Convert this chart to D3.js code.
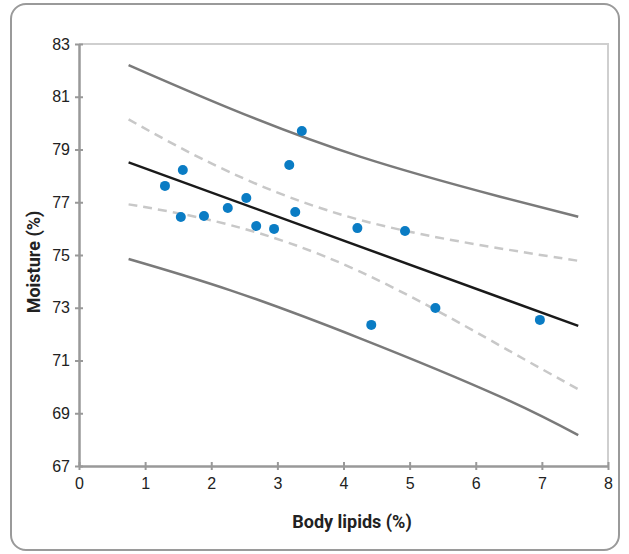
<!DOCTYPE html>
<html>
<head>
<meta charset="utf-8">
<script src="https://cdn.jsdelivr.net/npm/d3@7"></script>
<style>
  body { margin: 0; background: #fff; }
  svg { display: block; font-family: Roboto, "DejaVu Sans", sans-serif; }
</style>
</head>
<body>
<svg width="629" height="554"></svg>
<script>
// observed points: body lipids (%) vs moisture (%)
const lipids   = [1.30, 1.57, 1.54, 1.89, 2.25, 2.53, 2.68, 2.95, 3.27, 3.18, 3.37, 4.21, 4.93, 4.42, 5.39, 6.97];
const moisture = [77.62, 78.22, 76.44, 76.48, 76.78, 77.16, 76.10, 75.99, 76.63, 78.41, 79.70, 76.02, 75.91, 72.35, 72.99, 72.54];

// fitted line and bands
const lineX     = [0.75, 7.55];
const fitY      = [78.51, 72.31];
const bandX     = [0.75, 2.28, 4.25, 6.37, 7.55];
const confUpper = [80.14, 78.14, 76.33, 75.25, 74.78];
const confLower = [76.92, 76.14, 74.37, 71.56, 69.91];
const predUpper = [82.20, 80.56, 78.73, 77.21, 76.45];
const predLower = [74.85, 73.67, 71.84, 69.63, 68.17];

const xTicks = [0, 1, 2, 3, 4, 5, 6, 7, 8];
const yTicks = [67, 69, 71, 73, 75, 77, 79, 81, 83];

const svg = d3.select("svg");
const plotL = 79, plotR = 608, plotT = 44, plotB = 466;

const x = d3.scaleLinear().domain([0, 8]).range([plotL, plotR]);
const y = d3.scaleLinear().domain([67, 83]).range([plotB, plotT]);

// rounded frame
svg.append("rect")
  .attr("x", 11).attr("y", 4)
  .attr("width", 608).attr("height", 546)
  .attr("rx", 15)
  .attr("fill", "none")
  .attr("stroke", "#9a9a9a")
  .attr("stroke-width", 2);

// light top/right border of plot
svg.append("path")
  .attr("d", `M${plotL},${plotT}H${plotR}V${plotB}`)
  .attr("fill", "none")
  .attr("stroke", "#cfcfcf")
  .attr("stroke-width", 2);

const xAxis = svg.append("g")
  .attr("transform", `translate(0,${plotB})`)
  .call(d3.axisBottom(x).tickValues(xTicks).tickSize(0).tickPadding(12).tickFormat(d3.format("d")));
const yAxis = svg.append("g")
  .attr("transform", `translate(${plotL},0)`)
  .call(d3.axisLeft(y).tickValues(yTicks).tickSize(0).tickPadding(9).tickFormat(d3.format("d")));

[xAxis, yAxis].forEach(g => {
  g.select(".domain").attr("stroke", "#999").attr("stroke-width", 2.5);
  g.selectAll("text").attr("fill", "#222").style("font-size", "16px");
});

// ticks crossing the axis
xAxis.selectAll(".tick line").attr("y1", -4).attr("y2", 4).attr("stroke", "#999").attr("stroke-width", 2);
yAxis.selectAll(".tick line").attr("x1", -4).attr("x2", 4).attr("stroke", "#999").attr("stroke-width", 2);

const curve = d3.line()
  .x(d => x(d[0]))
  .y(d => y(d[1]))
  .curve(d3.curveNatural);

const series = [
  { ys: predUpper, color: "#7a7a7a", dash: null },
  { ys: predLower, color: "#7a7a7a", dash: null },
  { ys: confUpper, color: "#c8c8c8", dash: "9,6" },
  { ys: confLower, color: "#c8c8c8", dash: "9,6" }
];

svg.selectAll("path.band")
  .data(series)
  .join("path")
  .attr("class", "band")
  .attr("d", s => curve(d3.zip(bandX, s.ys)))
  .attr("fill", "none")
  .attr("stroke", s => s.color)
  .attr("stroke-width", 2.5)
  .attr("stroke-dasharray", s => s.dash);

svg.append("path")
  .attr("d", curve(d3.zip(lineX, fitY)))
  .attr("fill", "none")
  .attr("stroke", "#1a1a1a")
  .attr("stroke-width", 2.5);

svg.selectAll("circle")
  .data(d3.zip(lipids, moisture))
  .join("circle")
  .attr("cx", d => x(d[0]))
  .attr("cy", d => y(d[1]))
  .attr("r", 5)
  .attr("fill", "#0a7cc4");

svg.append("text")
  .attr("x", 352).attr("y", 528)
  .attr("text-anchor", "middle")
  .attr("font-weight", "bold")
  .attr("font-size", 18)
  .attr("fill", "#222")
  .text("Body lipids (%)");

svg.append("text")
  .attr("transform", "translate(40,262) rotate(-90)")
  .attr("text-anchor", "middle")
  .attr("font-weight", "bold")
  .attr("font-size", 18)
  .attr("fill", "#222")
  .text("Moisture (%)");
</script>
</body>
</html>
